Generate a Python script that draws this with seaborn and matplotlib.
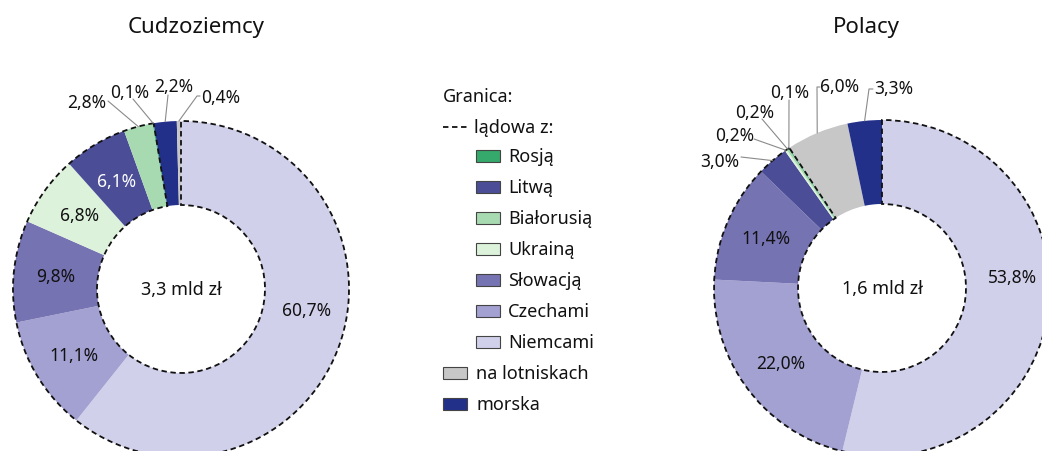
## Wydatki cudzoziemcow i Polakow wg granicy ##

import numpy as np
import seaborn as sns
import matplotlib.pyplot as plt
from matplotlib.patches import Wedge, Rectangle

## Dane
ladowe = ['Rosją', 'Litwą', 'Białorusią', 'Ukrainą', 'Słowacją', 'Czechami', 'Niemcami']
inne = ['na lotniskach', 'morska']

cudz_kat = ['Niemcami', 'Czechami', 'Słowacją', 'Ukrainą', 'Litwą',
            'Białorusią', 'Rosją', 'morska', 'na lotniskach']
cudz_val = [60.7, 11.1, 9.8, 6.8, 6.1, 2.8, 0.1, 2.2, 0.4]

pol_kat = ['Niemcami', 'Czechami', 'Słowacją', 'Litwą', 'Ukrainą',
           'Białorusią', 'Rosją', 'na lotniskach', 'morska']
pol_val = [53.8, 22.0, 11.4, 3.0, 0.2, 0.2, 0.1, 6.0, 3.3]

tytuly = ['Cudzoziemcy', 'Polacy']
sumy = ['3,3 mld zł', '1,6 mld zł']

## Kolory
paleta = sns.color_palette(['#35a96b', '#4b4e97', '#a8dab1', '#dcf2da', '#7673b2',
                            '#a3a0d2', '#d0d0eb', '#c6c7c6', '#23308a'])
kolory = dict(zip(ladowe + inne, paleta))

## Pozycje etykiet (piksele obrazu): tekst, potem punkty linii
cudz_zew = {
    'Białorusią': [(87, 103), (108, 102)],
    'Rosją': [(130, 93), (133, 100)],
    'morska': [(174, 87), (168, 96)],
    'na lotniskach': [(221, 98), (200, 97), (197, 97)],
}
pol_zew = {
    'Litwą': [(720, 162), (741, 158)],
    'Ukrainą': [(735, 136), (754, 140)],
    'Białorusią': [(755, 113), (762, 120)],
    'Rosją': [(790, 93), (789, 101)],
    'na lotniskach': [(840, 87), (820, 88), (817, 88)],
    'morska': [(894, 89), (873, 90), (869, 90)],
}

W, H = 1042, 452
R = 168
DASH = (0, (3, 2))
TXT = '#111111'


def px(x, y):
    return x, H - y


def fmt(v):
    return f'{v:.1f}'.replace('.', ',') + '%'


## Wykres
sns.set_theme(style='white')
plt.rcParams['font.family'] = ['Noto Sans', 'DejaVu Sans']

fig = plt.figure(figsize=(W / 100, H / 100), dpi=100)
ax = fig.add_axes([0, 0, 1, 1])


def donut(ax, centrum, kat, val, zew, kat_niemcy, r_niemcy, suma):
    cx, cy = px(*centrum)
    kol = [kolory[k] for k in kat]
    ax.pie(val, colors=kol, startangle=90, counterclock=False,
           center=(cx, cy), radius=R,
           wedgeprops=dict(width=R / 2, linewidth=0))

    # Obwodka granicy ladowej
    total = sum(val)
    f = sum(v for k, v in zip(kat, val) if k in ladowe) / total
    ax.add_patch(Wedge((cx, cy), R, 90 - 360 * f, 90, width=R / 2,
                       fill=False, ls=DASH, lw=1.3, ec='#111111', zorder=5))

    # Etykiety
    cum = np.cumsum(val) - np.array(val) / 2
    for k, v, c in zip(kat, val, cum):
        t = np.radians(360 * c / total)
        if k in zew:
            tx, ty = zew[k][0]
            ax.text(*px(tx, ty), fmt(v), ha='center', va='center', fontsize=12.5,
                    color=TXT, zorder=6)
            pts = [px(*p) for p in zew[k][1:]]
            pts.append((cx + R * np.sin(t), cy + R * np.cos(t)))
            xs, ys = zip(*pts)
            ax.plot(xs, ys, color='#8a8a8a', lw=0.8, zorder=6)
        else:
            r = R * 0.75
            if k == 'Niemcami':
                t = np.radians(kat_niemcy)
                r = r_niemcy
            kolor = 'white' if k == 'Litwą' else TXT
            ax.text(cx + r * np.sin(t), cy + r * np.cos(t), fmt(v),
                    ha='center', va='center', fontsize=12.5, color=kolor, zorder=6)

    ax.text(cx, cy, suma, ha='center', va='center', fontsize=13, color=TXT)


donut(ax, (181, 290), cudz_kat, cudz_val, cudz_zew, 99.5, 127, sumy[0])
donut(ax, (882, 289), pol_kat, pol_val, pol_zew, 85, 131, sumy[1])

# Tytuly
ax.text(*px(196, 28), tytuly[0], ha='center', va='center', fontsize=16, color=TXT)
ax.text(*px(866, 28), tytuly[1], ha='center', va='center', fontsize=16, color=TXT)

## Legenda
ax.text(*px(443, 97), 'Granica:', ha='left', va='center', fontsize=13, color=TXT)
ax.plot([443, 467], [H - 128, H - 128], color='#111111', ls=DASH, lw=1.3)
ax.text(*px(474, 128), 'lądowa z:', ha='left', va='center', fontsize=13, color=TXT)

y0 = 157
for i, k in enumerate(ladowe):
    y = y0 + i * 31
    ax.add_patch(Rectangle(px(476, y + 6), 24, 12, fc=kolory[k], ec='#444444', lw=0.8))
    ax.text(*px(508, y), k, ha='left', va='center', fontsize=13, color=TXT)
for j, k in enumerate(inne):
    y = y0 + (len(ladowe) + j) * 31
    ax.add_patch(Rectangle(px(443, y + 6), 24, 12, fc=kolory[k], ec='#444444', lw=0.8))
    ax.text(*px(476, y), k, ha='left', va='center', fontsize=13, color=TXT)

ax.set_xlim(0, W)
ax.set_ylim(0, H)
ax.set_aspect('equal')
ax.axis('off')

fig.savefig('out.png', dpi=100)
